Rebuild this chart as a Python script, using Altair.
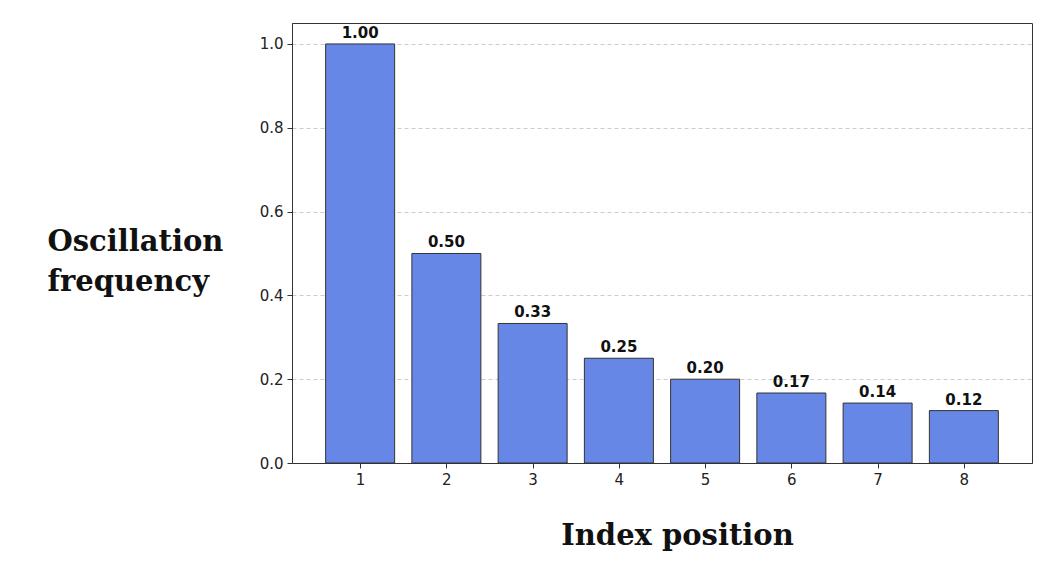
import altair as alt
import pandas as pd

positions = [1, 2, 3, 4, 5, 6, 7, 8]
values = [1.0, 0.5, 0.333, 0.25, 0.2, 0.167, 0.143, 0.125]
labels = ["1.00", "0.50", "0.33", "0.25", "0.20", "0.17", "0.14", "0.12"]
y_ticks = [0.0, 0.2, 0.4, 0.6, 0.8, 1.0]

df = pd.DataFrame({"pos": positions, "val": values, "label": labels})
df["left"] = df["pos"] - 0.4
df["right"] = df["pos"] + 0.4

title_font = "DejaVu Serif"

xscale = alt.Scale(domain=[0.21, 8.79], nice=False, zero=False)
yscale = alt.Scale(domain=[0, 1.05], nice=False)

bars = alt.Chart(df).mark_bar(
    color="#6787E7", stroke="#333333", strokeWidth=1
).encode(
    x=alt.X("left:Q", scale=xscale,
            axis=alt.Axis(values=positions, format="d", grid=False,
                          title="Index position", titleFont=title_font,
                          titleFontSize=29, titleFontWeight="bold",
                          titleColor="#111111", titleAlign="center",
                          titleBaseline="alphabetic", titleX=385, titleY=81,
                          labelFont="DejaVu Sans", labelFontSize=15,
                          labelColor="#222222", labelPadding=4,
                          tickColor="#333333", tickSize=5,
                          domainColor="#333333")),
    x2="right:Q",
    y=alt.Y("val:Q", scale=yscale,
            axis=alt.Axis(values=y_ticks, format=".1f", grid=True,
                          gridColor="#cccccc", gridDash=[4, 3],
                          title=["Oscillation", "frequency"],
                          titleFont=title_font, titleFontSize=29,
                          titleFontWeight="bold", titleColor="#111111",
                          titleAngle=0, titleAlign="left",
                          titleBaseline="alphabetic", titleX=-245,
                          titleY=227, titleLineHeight=40,
                          labelFont="DejaVu Sans", labelFontSize=15,
                          labelColor="#222222", labelPadding=4,
                          tickColor="#333333", tickSize=5,
                          domainColor="#333333")),
    y2=alt.datum(0),
)

text = alt.Chart(df).mark_text(
    font="DejaVu Sans", fontSize=15, fontWeight="bold", color="#111111",
    baseline="alphabetic", dy=-6
).encode(
    x=alt.X("pos:Q", scale=xscale),
    y=alt.Y("val:Q", scale=yscale),
    text="label:N",
)

chart = alt.layer(bars, text).properties(
    width=740, height=440,
    autosize=alt.AutoSizeParams(type="none"),
    padding={"left": 284, "top": 15, "right": 2, "bottom": 90},
).configure_view(stroke="#333333", strokeWidth=1)

chart.save("out.html", embed_options={"renderer": "svg", "actions": False})
